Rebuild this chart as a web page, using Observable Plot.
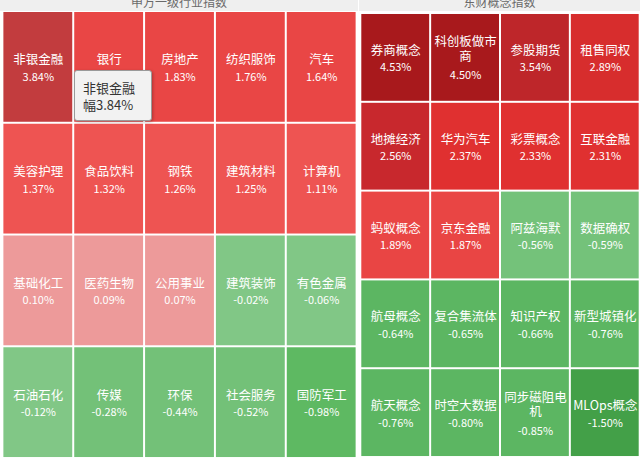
<!DOCTYPE html>
<html>
<head>
<meta charset="utf-8">
<script src="https://cdn.jsdelivr.net/npm/d3@7"></script>
<script src="https://cdn.jsdelivr.net/npm/@observablehq/plot@0.6"></script>
<style>
  html, body { margin: 0; padding: 0; background: #ffffff; overflow: hidden; width: 640px; height: 458px; }
  #wrap { position: relative; display: flex; width: 640px; height: 458px; font-family: "Noto Sans CJK SC", "Noto Sans", sans-serif; }
  .panel { display: flex; flex-direction: column; }
  .title { height: 11px; background: #efefef; overflow: hidden; position: relative; }
  .title span { position: absolute; left: 0; right: 0; top: -4px; text-align: center; font-size: 12px; line-height: 12px; color: #6a6a6a; }
  #tip { position: absolute; left: 74px; top: 70px; width: 76px; height: 49px; background: #f2f2f2; border: 1px solid #9a9a9a; border-radius: 3px; box-shadow: 1px 1px 3px rgba(0,0,0,0.25); color: #333; font-size: 13px; line-height: 17px; padding: 0; box-sizing: content-box; overflow: hidden; }
  #tip div { padding-left: 8px; white-space: nowrap; }
</style>
</head>
<body>
<div id="wrap">
  <div class="panel" id="leftPanel" style="width:358px"><div class="title"><span id="leftTitle"></span></div></div>
  <div class="panel" id="rightPanel" style="width:281px; margin-left:1px"><div class="title"><span id="rightTitle"></span></div></div>
  <div id="tip"><div id="tip1" style="margin-top:8px"></div><div id="tip2"></div></div>
</div>
<script>
// ---- data ----
const leftTitle = "申万一级行业指数";
const rightTitle = "东财概念指数";

const leftNames = ["非银金融","银行","房地产","纺织服饰","汽车",
                   "美容护理","食品饮料","钢铁","建筑材料","计算机",
                   "基础化工","医药生物","公用事业","建筑装饰","有色金属",
                   "石油石化","传媒","环保","社会服务","国防军工"];
const leftValues = [3.84,1.95,1.83,1.76,1.64,
                    1.37,1.32,1.26,1.25,1.11,
                    0.10,0.09,0.07,-0.02,-0.06,
                    -0.12,-0.28,-0.44,-0.52,-0.98];

const rightNames = ["券商概念","科创板做市商","参股期货","租售同权",
                    "地摊经济","华为汽车","彩票概念","互联金融",
                    "蚂蚁概念","京东金融","阿兹海默","数据确权",
                    "航母概念","复合集流体","知识产权","新型城镇化",
                    "航天概念","时空大数据","同步磁阻电机","MLOps概念"];
const rightValues = [4.53,4.50,3.54,2.89,
                     2.56,2.37,2.33,2.31,
                     1.89,1.87,-0.56,-0.59,
                     -0.64,-0.65,-0.66,-0.76,
                     -0.76,-0.80,-0.85,-1.50];

const tipLines = ["非银金融", "幅3.84%"];

// ---- helpers ----
function wrapName(s, maxEm) {
  const w = ch => (/[\x00-\x7f]/.test(ch) ? 0.6 : 1);
  const lines = []; let cur = "", cw = 0;
  for (const ch of s) {
    if (cw + w(ch) > maxEm && cur) { lines.push(cur); cur = ""; cw = 0; }
    cur += ch; cw += w(ch);
  }
  if (cur) lines.push(cur);
  return lines;
}

function buildRows(names, values, ncols) {
  return names.map((n, i) => {
    const lines = wrapName(n, 5.2);
    return { name: n, label: lines.join("\n"), nlines: lines.length,
             value: values[i], pct: values[i].toFixed(2) + "%",
             col: i % ncols, row: Math.floor(i / ncols) };
  });
}

function panel(rows, ncols, nrows, width, height, colorDomain, colorRange) {
  const single = rows.filter(d => d.nlines === 1);
  const multi = rows.filter(d => d.nlines > 1);
  return Plot.plot({
    width, height,
    margin: 0,
    style: { fontFamily: '"Noto Sans CJK SC", "Noto Sans", sans-serif', background: "white", overflow: "hidden" },
    x: { type: "band", domain: d3.range(ncols), range: [0, width + 1], padding: 0, axis: null },
    y: { type: "band", domain: d3.range(nrows), range: [0, height], padding: 0, axis: null },
    color: { type: "threshold", domain: colorDomain, range: colorRange },
    marks: [
      Plot.cell(rows, { x: "col", y: "row", fill: "value", inset: 1 }),
      Plot.text(single, { x: "col", y: "row", text: "label", fill: "white", fontSize: 12.5, dy: -7 }),
      Plot.text(multi, { x: "col", y: "row", text: "label", fill: "white", fontSize: 12.5, lineHeight: 1.15, dy: -9 }),
      Plot.text(single, { x: "col", y: "row", text: "pct", fill: "white", fontSize: 11, dy: 10 }),
      Plot.text(multi, { x: "col", y: "row", text: "pct", fill: "white", fontSize: 11, dy: 18 })
    ]
  });
}

document.getElementById("leftTitle").textContent = leftTitle;
document.getElementById("rightTitle").textContent = rightTitle;
document.getElementById("tip1").textContent = tipLines[0];
document.getElementById("tip2").textContent = tipLines[1];

const leftRows = buildRows(leftNames, leftValues, 5);
const rightRows = buildRows(rightNames, rightValues, 4);

const leftChart = panel(leftRows, 5, 4, 358, 448,
  [-0.7, -0.2, 0, 1, 1.5, 3],
  ["#5eb962", "#73c178", "#81c786", "#ed9a9a", "#ee5452", "#e94645", "#c23c3e"]);
const rightChart = panel(rightRows, 4, 5, 281, 448,
  [-1, -0.6, 0, 2, 2.45, 2.7, 3, 4],
  ["#43a048", "#5cb662", "#74c27a", "#e94544", "#e03030", "#c8282d", "#d72d2d", "#be262a", "#a8191c"]);

document.getElementById("leftPanel").appendChild(leftChart);
document.getElementById("rightPanel").appendChild(rightChart);
</script>
</body>
</html>
